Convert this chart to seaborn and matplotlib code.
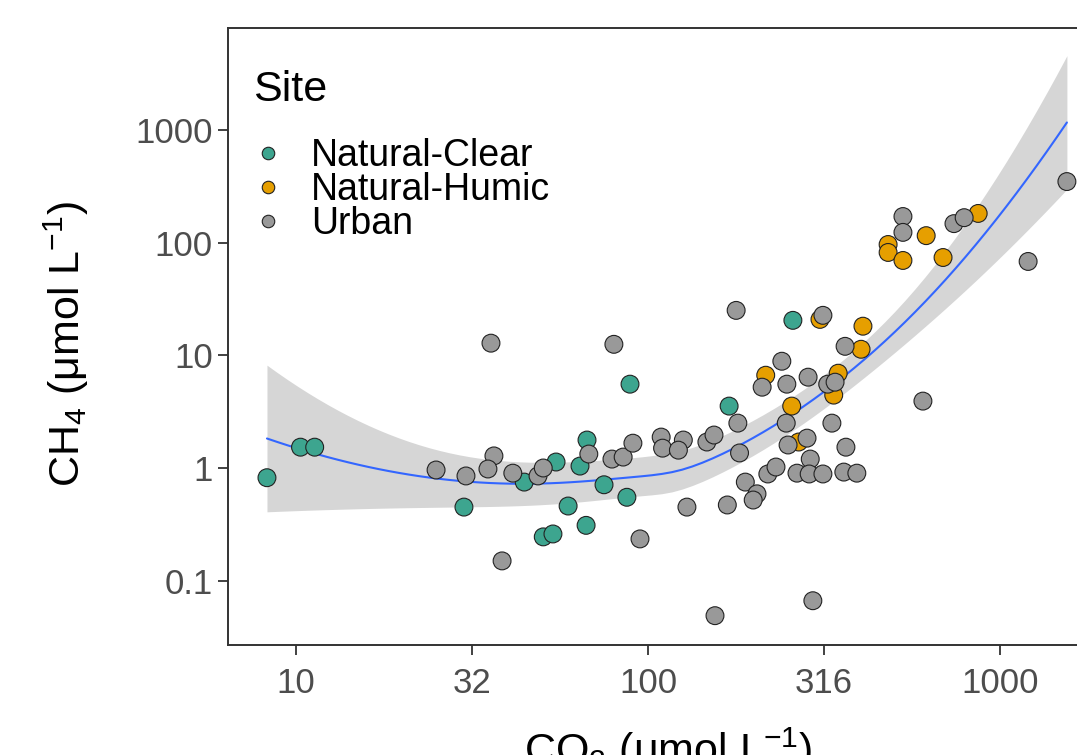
import numpy as np
import pandas as pd
import matplotlib
matplotlib.use("Agg")
import matplotlib.pyplot as plt
import seaborn as sns

# ---------------- data ----------------
sites = ["Natural-Clear", "Natural-Humic", "Urban"]
site_colors = ["#3DA58F", "#E69F00", "#999999"]

clear_co2 = [8.27, 10.3, 11.3, 30.0, 44.5, 50.4, 53.7, 54.8, 59.3, 64.1, 67.1,
             66.7, 75.0, 87.1, 88.9, 170, 258]
clear_ch4 = [0.82, 1.53, 1.53, 0.45, 0.75, 0.245, 0.26, 1.13, 0.46, 1.04, 1.77,
             0.31, 0.71, 0.55, 5.54, 3.54, 20.4]

humic_co2 = [216, 256, 268, 308, 337, 347, 403, 408, 481, 481, 530, 617, 689, 867]
humic_ch4 = [6.65, 3.54, 1.70, 20.8, 4.43, 6.93, 11.3, 18.1, 96, 81.6, 69.3, 115,
             73.6, 181]

urban_co2 = [25.0, 30.4, 35.8, 36.5, 35.1, 41.3, 38.5, 48.7, 50.4, 67.9, 79.0,
             85.0, 80.0, 90.6, 94.9, 109, 110, 126, 122, 129, 147, 154, 155, 168,
             178, 180, 182, 189, 204, 199, 211, 219, 231, 240, 247, 248, 250, 265,
             283, 285, 289, 287, 314, 314, 324, 340, 333, 294, 363, 365, 360, 392,
             530, 530, 604, 740, 791, 1202, 1549]
urban_ch4 = [0.96, 0.85, 12.8, 1.28, 0.98, 0.90, 0.15, 0.85, 1.0, 1.33, 1.20,
             1.25, 12.5, 1.66, 0.235, 1.88, 1.50, 1.77, 1.44, 0.45, 1.70, 1.96,
             0.049, 0.47, 25.0, 2.50, 1.36, 0.75, 0.59, 0.52, 5.21, 0.885, 1.02,
             8.85, 2.50, 5.54, 1.60, 0.90, 1.84, 6.39, 1.20, 0.885, 0.885, 22.6,
             5.54, 5.77, 2.50, 0.0665, 12.0, 1.53, 0.92, 0.90, 170, 123, 3.92,
             147, 166, 67.9, 347]

x_breaks = [10, 31.62, 100, 316.2, 1000]
x_labels = ["10", "32", "100", "316", "1000"]
y_breaks = [0.1, 1, 10, 100, 1000]
y_labels = ["0.1", "1", "10", "100", "1000"]

# ---------------- frame ----------------
df = pd.DataFrame({
    "co2": clear_co2 + humic_co2 + urban_co2,
    "ch4": clear_ch4 + humic_ch4 + urban_ch4,
    "Site": [sites[0]] * len(clear_co2) + [sites[1]] * len(humic_co2)
            + [sites[2]] * len(urban_co2),
})
df["lx"] = np.log10(df["co2"])
df["ly"] = np.log10(df["ch4"])


# ---------------- local quadratic smoother with 95% CI ----------------
def loess_fit(x, y, xs, span=1.0):
    x = np.asarray(x, float)
    y = np.asarray(y, float)
    n = len(x)
    q = min(n, int(np.floor(n * span)))

    def weights_row(x0):
        d = np.abs(x - x0)
        h = np.sort(d)[q - 1] * max(1.0, span)
        u = np.clip(d / h, 0, 1)
        w = (1 - u ** 3) ** 3
        X = np.column_stack([np.ones(n), x - x0, (x - x0) ** 2])
        XtW = X.T * w
        return np.linalg.solve(XtW @ X, XtW)[0]

    L = np.array([weights_row(v) for v in x])
    M = np.eye(n) - L
    R = M.T @ M
    one_delta = np.trace(R)
    two_delta = np.trace(R @ R)
    res = y - L @ y
    sigma = np.sqrt(np.sum(res ** 2) / one_delta)
    dfree = one_delta ** 2 / two_delta
    z = 1.959964
    tq = z + (z ** 3 + z) / (4 * dfree) + (5 * z ** 5 + 16 * z ** 3 + 3 * z) / (96 * dfree ** 2)
    Ls = np.array([weights_row(v) for v in xs])
    fit = Ls @ y
    se = sigma * np.sqrt(np.sum(Ls ** 2, axis=1))
    return fit, fit - tq * se, fit + tq * se


xs = np.linspace(df["lx"].min(), df["lx"].max(), 80)
fit, lo, hi = loess_fit(df["lx"], df["ly"], xs)
smooth = pd.DataFrame({"lx": xs, "fit": fit, "lo": lo, "hi": hi})

sns.set_theme(style="white")
plt.rcParams["font.family"] = ["Liberation Sans", "DejaVu Sans"]
plt.rcParams["mathtext.fontset"] = "custom"
plt.rcParams["mathtext.rm"] = "Liberation Sans"
plt.rcParams["mathtext.it"] = "Liberation Sans:italic"
plt.rcParams["mathtext.bf"] = "Liberation Sans:bold"
plt.rcParams["text.color"] = "black"
plt.rcParams["axes.labelcolor"] = "black"

W, H = 1077, 755
fig = plt.figure(figsize=(W / 100, H / 100), dpi=100)
ax = fig.add_axes([228 / W, 1 - 645 / H, (1082 - 228) / W, (645 - 28) / H])

ax.fill_between(smooth["lx"], smooth["lo"], smooth["hi"], color="#999999",
                alpha=0.4, lw=0, zorder=1)
sns.lineplot(data=smooth, x="lx", y="fit", color="#3366FF", lw=1.5, ax=ax,
             zorder=2)

sns.scatterplot(data=df, x="lx", y="ly", hue="Site", hue_order=sites,
                palette=site_colors, s=165, edgecolor="#222222", linewidth=0.8,
                ax=ax, zorder=3)

ax.set_xlim(1 - 68 / 352, 1 + 786 / 352)
ax.set_ylim((468 - 645) / 112.75, (468 - 28) / 112.75)
ax.set_xticks(np.log10(x_breaks))
ax.set_xticklabels(x_labels)
ax.set_yticks(np.log10(y_breaks))
ax.set_yticklabels(y_labels)
ax.tick_params(axis="both", labelsize=25, labelcolor="#4D4D4D", color="#333333",
               length=7, width=1.3, bottom=True, left=True, direction="out")
ax.tick_params(axis="x", pad=9)
ax.tick_params(axis="y", pad=4)
for s in ax.spines.values():
    s.set_color("#333333")
    s.set_linewidth(1.4)
ax.grid(False)

ax.set_xlabel(r"CO$_2$ ($\mathrm{\mu}$mol L$^{-1}$)", fontsize=31, color="black")
ax.set_ylabel(r"CH$_4$ ($\mathrm{\mu}$mol L$^{-1}$)", fontsize=31, color="black")
ax.xaxis.set_label_coords(0.515, -0.13)
ax.yaxis.set_label_coords(-0.16, 0.488)

leg = ax.legend(title="Site", loc="upper left", bbox_to_anchor=(0.029, 0.932),
                frameon=False, fontsize=27, title_fontsize=31, labelspacing=-0.05,
                handlelength=0.8, handletextpad=0.75, markerscale=0.7,
                borderpad=0, borderaxespad=0, alignment="left")
leg._legend_box.sep = 20
for t in leg.get_texts():
    t.set_color("black")
leg.get_title().set_color("black")

fig.savefig("out.png", dpi=100)
